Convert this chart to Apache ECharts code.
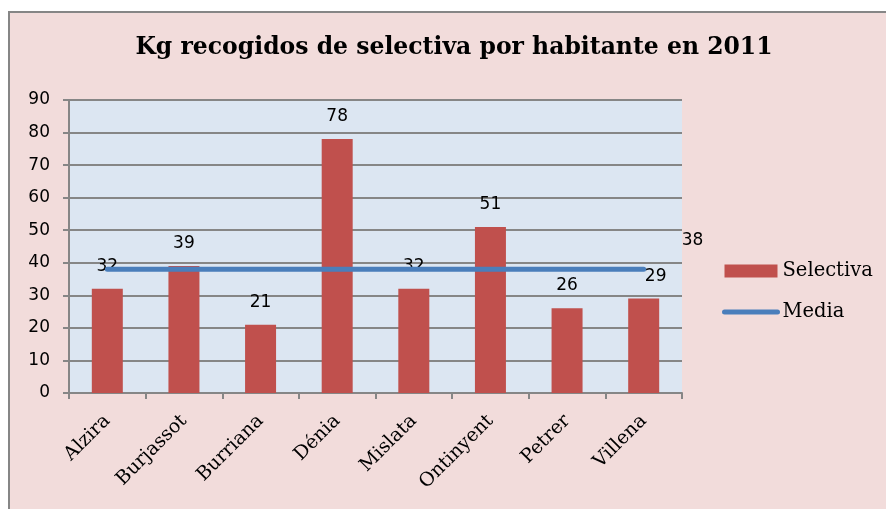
<!DOCTYPE html>
<html>
<head>
<meta charset="utf-8">
<script src="https://cdn.jsdelivr.net/npm/echarts@6/dist/echarts.min.js"></script>
<style>
  html, body { margin: 0; padding: 0; background: #fff; }
  .wrap { position: relative; width: 886px; height: 509px; overflow: hidden; }
  .frame { position: absolute; left: 8px; top: 11px; width: 900px; height: 520px;
           background: #f2dcdb; border: 2px solid #868686; box-sizing: border-box; }
  #chart { position: absolute; left: 0; top: 0; width: 886px; height: 509px; }
</style>
</head>
<body>
<div class="wrap">
  <div class="frame"></div>
  <div id="chart"></div>
</div>
<script>
var categories = ['Alzira', 'Burjassot', 'Burriana', 'Dénia', 'Mislata', 'Ontinyent', 'Petrer', 'Villena'];
var selectiva = [32, 39, 21, 78, 32, 51, 26, 29];
var media = [38, 38, 38, 38, 38, 38, 38, 38];

var myEcharts = echarts.init(document.getElementById('chart'));

var barData = selectiva.map(function (v, i) {
  // Villena label sits a bit to the right in the original
  if (i === selectiva.length - 1) {
    return { value: v, label: { offset: [12, 0] } };
  }
  return v;
});

var option = {
  animation: false,
  title: {
    text: 'Kg recogidos de selectiva por habitante en 2011',
    left: 449,
    textAlign: 'center',
    top: 31,
    textStyle: {
      fontFamily: 'DejaVu Serif',
      fontWeight: 'bold',
      fontSize: 23.5,
      color: '#000'
    }
  },
  legend: {
    orient: 'vertical',
    left: 717,
    top: 256,
    itemGap: 21,
    itemWidth: 53,
    itemHeight: 13,
    textStyle: {
      fontFamily: 'DejaVu Serif',
      fontSize: 19.5,
      color: '#000'
    },
    data: [
      { name: 'Selectiva', icon: 'rect' },
      { name: 'Media', itemStyle: { opacity: 0 }, lineStyle: { width: 5, cap: 'round' } }
    ]
  },
  grid: {
    left: 69,
    right: 204,
    top: 100,
    bottom: 116,
    show: true,
    backgroundColor: '#dce6f2',
    borderWidth: 0
  },
  xAxis: {
    type: 'category',
    data: categories,
    axisLine: { lineStyle: { color: '#868686', width: 2 } },
    axisTick: { show: true, length: 6, lineStyle: { color: '#868686', width: 2 } },
    axisLabel: {
      interval: 0,
      rotate: 45,
      margin: 25,
      fontFamily: 'DejaVu Serif',
      fontSize: 19,
      color: '#000'
    }
  },
  yAxis: {
    type: 'value',
    min: 0,
    max: 90,
    interval: 10,
    axisLine: { show: true, lineStyle: { color: '#868686', width: 2 } },
    axisTick: { show: true, length: 6, lineStyle: { color: '#868686', width: 2 } },
    axisLabel: {
      margin: 19,
      fontFamily: 'DejaVu Sans',
      fontSize: 17,
      color: '#000'
    },
    splitLine: { lineStyle: { color: '#868686', width: 2 } }
  },
  series: [
    {
      name: 'Selectiva',
      type: 'bar',
      barWidth: 31,
      data: barData,
      itemStyle: { color: '#c0504d' },
      label: {
        show: true,
        position: 'top',
        distance: 14,
        fontFamily: 'DejaVu Sans',
        fontSize: 17,
        color: '#000'
      }
    },
    {
      name: 'Media',
      type: 'line',
      data: media,
      symbol: 'none',
      lineStyle: { color: '#4a7ebb', width: 5, cap: 'round' },
      itemStyle: { color: '#4a7ebb' },
      z: 3,
      endLabel: {
        show: true,
        distance: 8,
        offset: [30, -29],
        fontFamily: 'DejaVu Sans',
        fontSize: 17,
        color: '#000'
      }
    }
  ]
};

myEcharts.setOption(option, true);
</script>
</body>
</html>
